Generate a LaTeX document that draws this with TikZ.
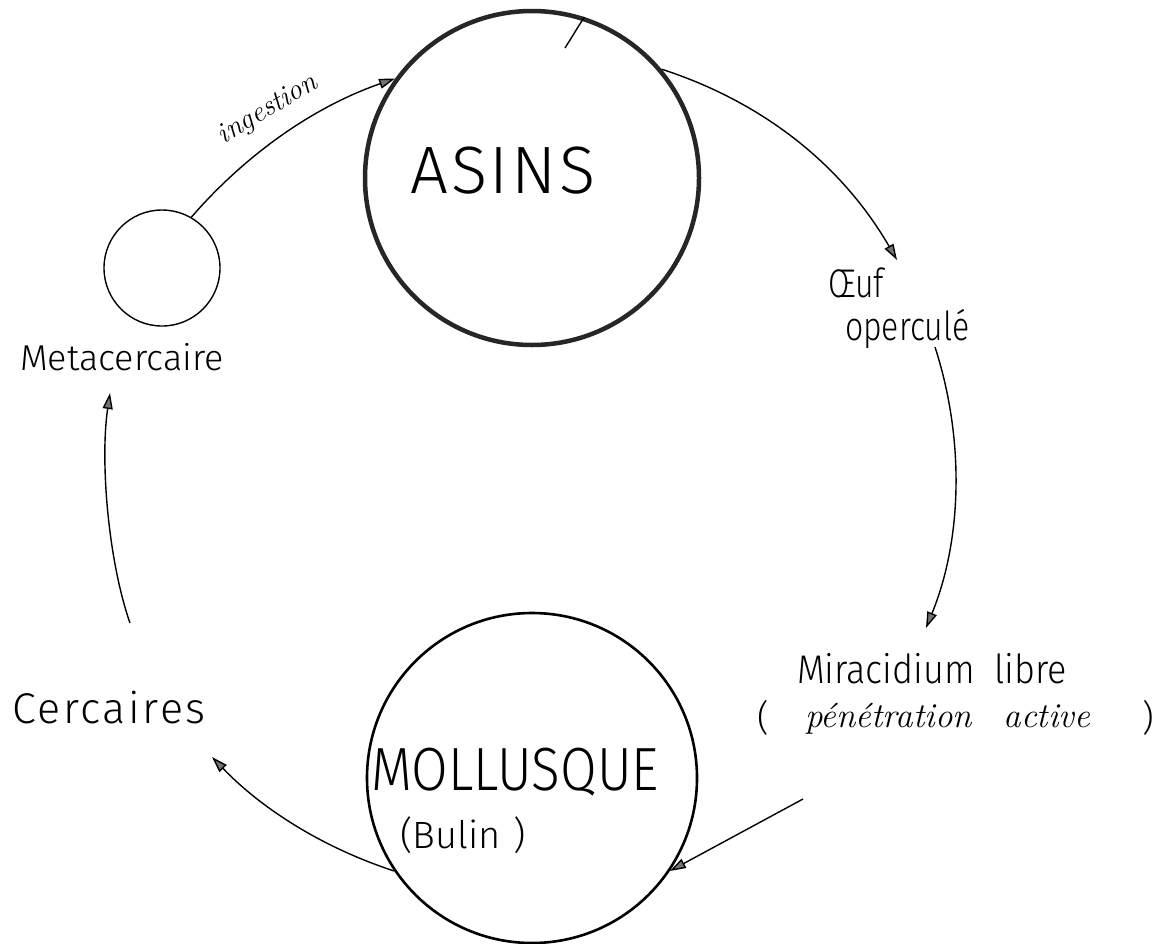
\documentclass[tikz,border=0pt]{standalone}
\usepackage{fontspec}
\usepackage{graphicx}
\newfontfamily\lett{Fira Sans Light}
\usetikzlibrary{arrows.meta}
\tikzset{
  conn/.style={line width=1.4pt, -{Triangle[length=16pt,width=10pt,fill=black!55]}},
  lab/.style={inner sep=0pt, outer sep=0pt, font=\lett},
  hand/.style={inner sep=0pt, outer sep=0pt, font=\rmfamily\itshape},
}
\begin{document}
\begin{tikzpicture}[x=1pt,y=-1pt]
\useasboundingbox (0,0) rectangle (1169,943);
\fill[white] (0,0) rectangle (1169,943);
% hosts
\node[circle, draw=black!85, line width=4.5pt, minimum size=334pt, inner sep=0pt] (asins) at (532,178) {};
\node[circle, draw, line width=2.6pt, minimum size=330pt, inner sep=0pt] (moll) at (532,778) {};
\node[circle, draw, line width=1.4pt, minimum size=116pt, inner sep=0pt] (meta) at (162,268) {};
% labels
\node[lab, anchor=base] (asinsT) at (503,193) {\fontsize{67}{67}\selectfont\addfontfeature{LetterSpace=4}ASINS};
\node[lab, anchor=base] (mollT) at (515,790) {\fontsize{61}{61}\selectfont\scalebox{0.87}[1]{MOLLUSQUE}};
\node[lab, anchor=base] (bulin) at (463,848) {\fontsize{38}{38}\selectfont (Bulin\,\,)};
\node[lab, anchor=base] (metaT) at (122,370) {\fontsize{36}{36}\selectfont Metacercaire};
\node[lab, anchor=base] (cerc) at (109,723) {\fontsize{43}{43}\selectfont\addfontfeature{LetterSpace=6}Cercaires};
\node[lab, anchor=base west] (oeuf) at (828,297) {\fontsize{40}{40}\selectfont\scalebox{0.8}[1]{Œuf}};
\node[lab, anchor=base west] (operc) at (845,340) {\fontsize{40}{40}\selectfont\scalebox{0.8}[1]{operculé}};
\node[lab, anchor=base west] (mira) at (797,683) {\fontsize{40}{40}\selectfont\scalebox{0.9}[1]{Miracidium\hspace{22pt}libre}};
\node[lab, anchor=base west] (parL) at (757,730) {\fontsize{36}{36}\selectfont (};
\node[hand, anchor=base west] (pene) at (805,727) {\fontsize{35}{35}\selectfont pénétration\hspace{32pt}active};
\node[lab, anchor=base west] (parR) at (1142,730) {\fontsize{36}{36}\selectfont )};
\node[hand, rotate=31] (ing) at (268,110) {\fontsize{29}{29}\selectfont ingestion};
% free ends
\coordinate (oeufIn) at (897,260);
\coordinate (opOut) at (935,347);
\coordinate (miraIn) at (926,628);
\coordinate (miraOut) at (803,799);
\coordinate (cercIn) at (212,757);
\coordinate (cercOut) at (130,623);
\coordinate (metaIn) at (110,393);
\coordinate (tick) at (565,48);
% cycle
\draw[conn] (meta.60) .. controls (248,152) and (316,106) .. (asins.144);
\draw[conn] (asins.40) .. controls (763,102) and (842,165) .. (oeufIn);
\draw[conn] (opOut) .. controls (965,440) and (962,540) .. (miraIn);
\draw[conn] (miraOut) -- (moll.-34);
\draw[conn] (moll.214) .. controls (324,848) and (263,810) .. (cercIn);
\draw[conn] (cercOut) .. controls (108,560) and (100,460) .. (metaIn);
\draw[line width=1.4pt] (asins.72) -- (tick);
\end{tikzpicture}
\end{document}
